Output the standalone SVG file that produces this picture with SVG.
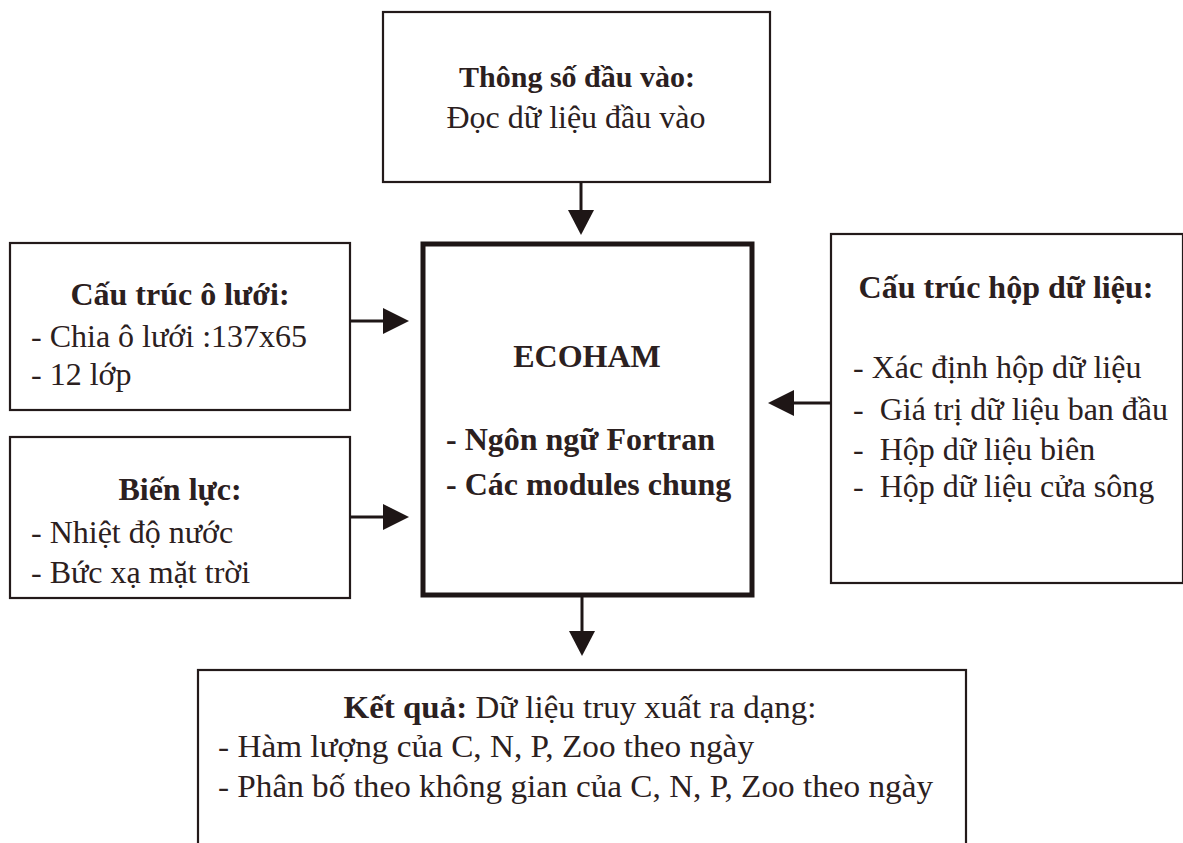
<svg xmlns="http://www.w3.org/2000/svg" width="1183" height="843" viewBox="0 0 1183 843">
<style>
.box{fill:#fff;stroke:#231a1a;stroke-width:2.2}
.main{fill:#fff;stroke:#1e1616;stroke-width:5}
.t{font-family:"Liberation Serif","Times New Roman",serif;font-size:32px;fill:#2b2020}
.b{font-weight:bold}
.c{text-anchor:middle}
.ln{stroke:#1e1616;stroke-width:3;fill:none}
.hd{fill:#1e1616}
</style>
<rect width="1183" height="843" fill="#fff"/>
<g id="input">
<rect class="box" x="383" y="12" width="387" height="170"/>
<text class="t b c" x="577" y="87" style="font-size:30px">Thông số đầu vào:</text>
<text class="t c" x="576" y="128">Đọc dữ liệu đầu vào</text>
</g>
<g id="grid">
<rect class="box" x="10" y="243" width="340" height="167"/>
<text class="t b c" x="180" y="305">Cấu trúc ô lưới:</text>
<text class="t" x="31" y="347">- Chia ô lưới :137x65</text>
<text class="t" x="31" y="385">- 12 lớp</text>
</g>
<g id="forcing">
<rect class="box" x="10" y="437" width="340" height="161"/>
<text class="t b c" x="180" y="500">Biến lực:</text>
<text class="t" x="31" y="543">- Nhiệt độ nước</text>
<text class="t" x="31" y="583">- Bức xạ mặt trời</text>
</g>
<g id="ecoham">
<rect class="main" x="423" y="244" width="329" height="351"/>
<text class="t b c" x="587" y="367">ECOHAM</text>
<text class="t b" x="446" y="450">- Ngôn ngữ Fortran</text>
<text class="t b" x="446" y="495">- Các modules chung</text>
</g>
<g id="databox">
<rect class="box" x="831" y="234" width="352" height="349"/>
<text class="t b c" x="1006" y="298">Cấu trúc hộp dữ liệu:</text>
<text class="t" x="853" y="378">- Xác định hộp dữ liệu</text>
<text class="t" x="853" y="420" xml:space="preserve">-  Giá trị dữ liệu ban đầu</text>
<text class="t" x="853" y="460" xml:space="preserve">-  Hộp dữ liệu biên</text>
<text class="t" x="853" y="497" xml:space="preserve">-  Hộp dữ liệu cửa sông</text>
</g>
<g id="result">
<rect class="box" x="198" y="670" width="768" height="200"/>
<text class="t c" x="580" y="718" textLength="473" lengthAdjust="spacingAndGlyphs"><tspan class="b">Kết quả:</tspan> Dữ liệu truy xuất ra dạng:</text>
<text class="t" x="218" y="757" textLength="536" lengthAdjust="spacingAndGlyphs">- Hàm lượng của C, N, P, Zoo theo ngày</text>
<text class="t" x="218" y="797" textLength="715" lengthAdjust="spacingAndGlyphs">- Phân bố theo không gian của C, N, P, Zoo theo ngày</text>
</g>
<g id="connectors">
<line class="ln" x1="581" y1="182" x2="581" y2="212"/>
<polygon class="hd" points="568,210 594,210 581,235"/>
<line class="ln" x1="350" y1="321" x2="386" y2="321"/>
<polygon class="hd" points="383,308 383,334 409,321"/>
<line class="ln" x1="350" y1="517" x2="386" y2="517"/>
<polygon class="hd" points="383,504 383,530 409,517"/>
<line class="ln" x1="831" y1="403" x2="790" y2="403"/>
<polygon class="hd" points="794,390 794,416 768,403"/>
<line class="ln" x1="582" y1="597" x2="582" y2="634"/>
<polygon class="hd" points="569,631 595,631 582,656"/>
</g>
</svg>
